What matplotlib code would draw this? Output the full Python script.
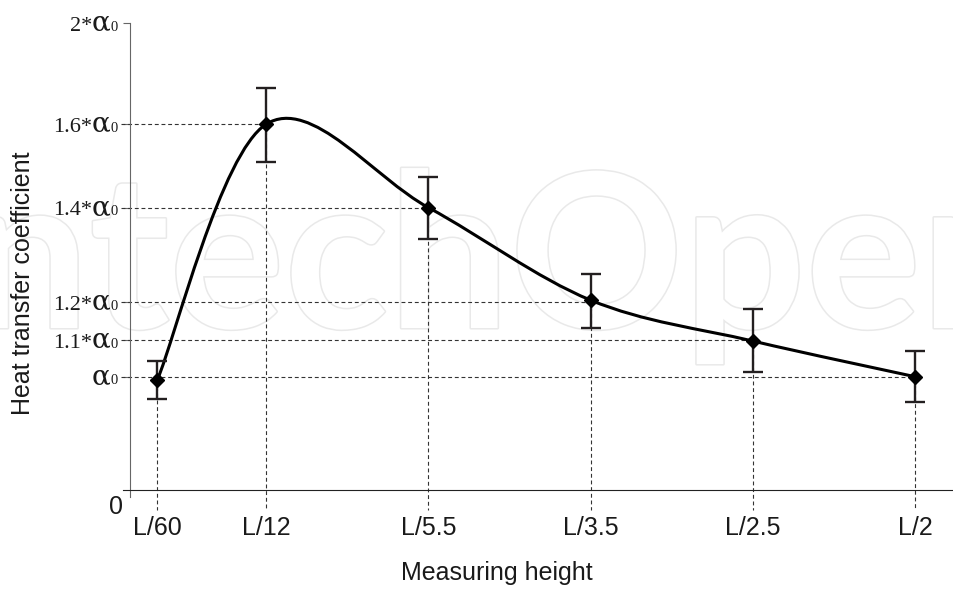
import numpy as np
import matplotlib
matplotlib.use('Agg')
import matplotlib.pyplot as plt
import matplotlib.patheffects as pe
from matplotlib.path import Path
from matplotlib.patches import PathPatch
from matplotlib.offsetbox import TextArea, HPacker, AnnotationBbox

plt.rcParams['font.family'] = ['Liberation Sans', 'DejaVu Sans']

# measuring heights and where they sit on the x axis (original spacing is uneven)
heights = ['L/60', 'L/12', 'L/5.5', 'L/3.5', 'L/2.5', 'L/2']
x_pos = [0.33, 1, 2, 3, 4, 5]

# heat transfer coefficient, in units of alpha0, with error bar ends
alpha_mean = [0.971, 1.60, 1.40, 1.204, 1.098, 1.00]
alpha_low = [0.80, 1.510, 1.333, 1.131, 1.012, 0.773]
alpha_high = [1.043, 1.744, 1.474, 1.259, 1.182, 1.071]

# y levels, their label prefix, and which point the dashed guide runs to
level_vals = [1.0, 1.1, 1.2, 1.4, 1.6, 2.0]
level_text = ['', '1.1*', '1.2*', '1.4*', '1.6*', '2*']
level_guide = ['L/2', 'L/2.5', 'L/3.5', 'L/5.5', 'L/12', None]

# the source axis is not linear in alpha0 -> piecewise map (height above zero line)
scale_vals = [-1.0, 0.0, 1.0, 1.1, 1.2, 1.4, 1.6, 2.0, 3.0]
scale_pos = [-113.0, 0.0, 113.0, 149.4, 187.7, 282.2, 365.4, 466.4, 718.9]


def fwd(v):
    return np.interp(v, scale_vals, scale_pos)


def inv(p):
    return np.interp(p, scale_pos, scale_vals)


fig = plt.figure(figsize=(9.54, 5.89), dpi=100)
ax = fig.add_axes([123 / 954, (589 - 512) / 589, 831 / 954, (512 - 15) / 589])
ax.patch.set_visible(False)
ax.set_yscale('function', functions=(fwd, inv))
ax.set_xlim(0.1186, 5.24)
ax.set_ylim(float(inv(-22.3)), float(inv(474.7)))
y_axis_x = 0.1618

# faint watermark behind everything
fig.text(-32 / 954, (589 - 328) / 589, 'ntechOpen', fontsize=155, family='Lato',
         weight='bold', color='white', zorder=-1,
         path_effects=[pe.withStroke(linewidth=2.2, foreground='#e9e9e9')])

ax.spines['top'].set_visible(False)
ax.spines['right'].set_visible(False)
ax.spines['left'].set_position(('data', y_axis_x))
ax.spines['left'].set_bounds(float(inv(-7.3)), 2.0)
ax.spines['left'].set_color('#666666')
ax.spines['left'].set_linewidth(0.8)
ax.spines['bottom'].set_position(('data', 0))
ax.spines['bottom'].set_color('#222222')
ax.spines['bottom'].set_linewidth(0.8)

ax.set_xticks(x_pos, heights)
ax.tick_params(axis='x', length=0, pad=19, labelsize=18, labelcolor='#1a1a1a')
ax.set_yticks(level_vals)
ax.set_yticklabels([])
ax.yaxis.set_minor_locator(matplotlib.ticker.NullLocator())
ax.tick_params(axis='y', length=5, width=0.8, color='#666666')

# dashed guides
dash = dict(color='#333333', lw=0.8, linestyle=(0, (3.5, 2.5)), zorder=2, clip_on=False)
for v, g in zip(level_vals, level_guide):
    if g is not None:
        ax.plot([0.106, x_pos[heights.index(g)]], [v, v], **dash)
for x, v in zip(x_pos, alpha_mean):
    ax.plot([x, x], [v, float(inv(-20.3))], **dash)

# smoothed line (excel-like catmull-rom), done in axes coords
pts = ax.transAxes.inverted().transform(
    ax.transData.transform(np.column_stack([x_pos, alpha_mean])))
n = len(pts)
verts = [pts[0]]
codes = [Path.MOVETO]
for i in range(n - 1):
    p0 = pts[max(i - 1, 0)]
    p1 = pts[i]
    p2 = pts[i + 1]
    p3 = pts[min(i + 2, n - 1)]
    verts += [p1 + (p2 - p0) / 6, p2 - (p3 - p1) / 6, p2]
    codes += [Path.CURVE4] * 3
ax.add_patch(PathPatch(Path(verts, codes), transform=ax.transAxes, fill=False,
                       edgecolor='black', lw=2.2, zorder=3))

mean = np.array(alpha_mean)
yerr = [mean - np.array(alpha_low), np.array(alpha_high) - mean]
ax.errorbar(x_pos, alpha_mean, yerr=yerr, fmt='none', ecolor='#231f20',
            elinewidth=1.7, capsize=7.5, capthick=1.7, zorder=4)
ax.plot(x_pos, alpha_mean, 'D', color='black', ms=7, zorder=6)

# y labels: "1.6*" + alpha + small 0
for v, t in zip(level_vals, level_text):
    parts = []
    if t:
        parts.append(TextArea(t, textprops=dict(family='Liberation Serif', size=16, color='#1a1a1a')))
    parts.append(TextArea('α', textprops=dict(family='DejaVu Serif', size=20, color='#1a1a1a')))
    parts.append(TextArea('0', textprops=dict(family='Liberation Serif', size=10.5, color='#1a1a1a')))
    box = HPacker(children=parts, align='baseline', pad=0, sep=0)
    ax.add_artist(AnnotationBbox(box, (y_axis_x, v), xybox=(-12, 0), xycoords='data',
                                 boxcoords='offset pixels', box_alignment=(1, 0.5),
                                 frameon=False, annotation_clip=False))

ax.annotate('0', xy=(y_axis_x, 0), xytext=(-14, -24), textcoords='offset pixels',
            ha='center', va='baseline', fontsize=18, color='#1a1a1a')

fig.text(497 / 954, (589 - 580) / 589, 'Measuring height', ha='center', va='baseline',
         fontsize=18, color='#1a1a1a')
fig.text(23 / 954, (589 - 283) / 589, 'Heat transfer coefficient', rotation=90,
         ha='center', va='center', fontsize=18, color='#1a1a1a')

fig.savefig('out.png', dpi=100)
